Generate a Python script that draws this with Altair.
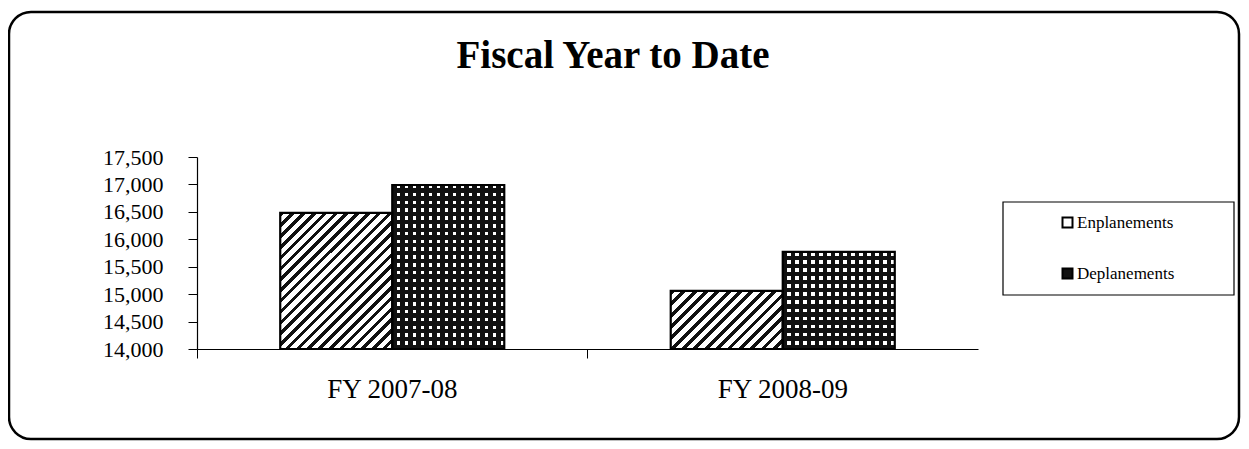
import altair as alt
import pandas as pd

# ---- data ----
title_text = "Fiscal Year to Date"
categories = ["FY 2007-08", "FY 2008-09"]
series = ["Enplanements", "Deplanements"]
enplanements = [16480, 15060]
deplanements = [16990, 15770]
y_ticks = [14000, 14500, 15000, 15500, 16000, 16500, 17000, 17500]
y_min, y_max = 14000, 17500

rows = []
for i, c in enumerate(categories):
    rows.append({"cat": c, "series": series[0], "value": enplanements[i]})
    rows.append({"cat": c, "series": series[1], "value": deplanements[i]})
df = pd.DataFrame(rows)

# ---- layout (pixels) ----
W, H = 781, 192
BAR_W = 112
SERIF = "Liberation Serif"
BLACK = "#111111"
CLEAR = "rgba(255,255,255,0)"


def bar_h(v):
    return (v - y_min) / (y_max - y_min) * H


def stops_for(n, frac, c1, c2):
    st = []
    for i in range(n):
        a = i / n
        b = (i + frac) / n
        c = (i + 1) / n
        st += [{"offset": a, "color": c1}, {"offset": b, "color": c1},
               {"offset": b, "color": c2}, {"offset": c, "color": c2}]
    return st


def diag_fill(h, spacing=11.0, frac=0.42):
    w = BAR_W
    k = (w + h) / (w * w + h * h)
    n = max(1, round((w + h) / spacing))
    return {"gradient": "linear", "x1": 0, "y1": 0, "x2": k * w, "y2": k * h,
            "stops": stops_for(n, frac, BLACK, CLEAR)}


def hstripe_fill(h, period=8.0, frac=0.45, color="white"):
    n = max(1, round(h / period))
    return {"gradient": "linear", "x1": 0, "y1": 0, "x2": 0, "y2": 1,
            "stops": stops_for(n, frac, color, CLEAR)}


def vstripe_fill(period=8.0, frac=0.55, color=BLACK):
    n = max(1, round(BAR_W / period))
    return {"gradient": "linear", "x1": 0, "y1": 0, "x2": 1, "y2": 0,
            "stops": stops_for(n, frac, color, CLEAR)}


x_enc = alt.X("cat:N", sort=categories,
              scale=alt.Scale(domain=categories, paddingInner=0, paddingOuter=0),
              axis=alt.Axis(title=None, labelAngle=0, labelFont=SERIF, labelFontSize=27,
                            labelColor="black", labelPadding=18, tickSize=9,
                            tickColor="black", domainColor="black", bandPosition=0,
                            domainWidth=1.2))
xo_enc = alt.XOffset("series:N", sort=series,
                     scale=alt.Scale(domain=series, paddingInner=0, paddingOuter=0.743))
y_enc = alt.Y("value:Q",
              scale=alt.Scale(domain=[y_min, y_max], nice=False, zero=False),
              axis=alt.Axis(title=None, values=y_ticks, format=",.0f", labelFont=SERIF,
                            labelFontSize=22, labelColor="black", labelPadding=25,
                            tickSize=9, tickColor="black", domainColor="black",
                            grid=False, domainWidth=1.2))
y2_enc = alt.datum(y_min)

base = alt.Chart(df).mark_bar().encode(
    x=x_enc, xOffset=xo_enc, y=y_enc, y2=y2_enc,
    color=alt.Color("series:N", sort=series,
                    scale=alt.Scale(domain=series, range=["white", BLACK]),
                    legend=alt.Legend(title=None, orient="none", legendX=862, legendY=57,
                                      labelFont=SERIF, labelFontSize=17, labelColor="black",
                                      symbolType="square", symbolSize=100,
                                      symbolStrokeColor="black", symbolStrokeWidth=2,
                                      symbolOpacity=1, rowPadding=32, labelOffset=1,
                                      padding=0)),
)

layers = []
for i, c in enumerate(categories):
    he = bar_h(enplanements[i])
    hd = bar_h(deplanements[i])
    filt_e = (alt.datum.cat == c) & (alt.datum.series == series[0])
    filt_d = (alt.datum.cat == c) & (alt.datum.series == series[1])
    layers.append(alt.Chart(df).mark_bar(fill=diag_fill(he)).encode(
        x=x_enc, xOffset=xo_enc, y=y_enc, y2=y2_enc).transform_filter(filt_e))
    layers.append(alt.Chart(df).mark_bar(fill=hstripe_fill(hd)).encode(
        x=x_enc, xOffset=xo_enc, y=y_enc, y2=y2_enc).transform_filter(filt_d))
    layers.append(alt.Chart(df).mark_bar(fill=vstripe_fill()).encode(
        x=x_enc, xOffset=xo_enc, y=y_enc, y2=y2_enc).transform_filter(filt_d))

outline = alt.Chart(df).mark_bar(fillOpacity=0, stroke="black", strokeWidth=2.2).encode(
    x=x_enc, xOffset=xo_enc, y=y_enc, y2=y2_enc)

deco = alt.Data(values=[{"t": title_text}])
border = alt.Chart(deco).mark_rect(filled=False, stroke="black", strokeWidth=2.5,
                                    cornerRadius=22).encode(
    x=alt.value(-188), x2=alt.value(1042), y=alt.value(-145), y2=alt.value(282))
legend_box = alt.Chart(deco).mark_rect(filled=False, stroke="black", strokeWidth=1.2).encode(
    x=alt.value(806), x2=alt.value(1037), y=alt.value(45), y2=alt.value(138))
title = alt.Chart(deco).mark_text(font=SERIF, fontSize=39, fontWeight="bold",
                                  align="center", baseline="alphabetic",
                                  color="black").encode(
    text="t:N", x=alt.value(416), y=alt.value(-89))

chart = alt.layer(border, legend_box, title, base, *layers, outline).properties(
    width=W, height=H,
    autosize=alt.AutoSizeParams(type="none"),
    padding={"left": 189, "top": 149, "right": 263, "bottom": 92},
    background="white",
).configure_view(stroke=None)

chart.save("out.html", embed_options={"renderer": "svg", "actions": False})
